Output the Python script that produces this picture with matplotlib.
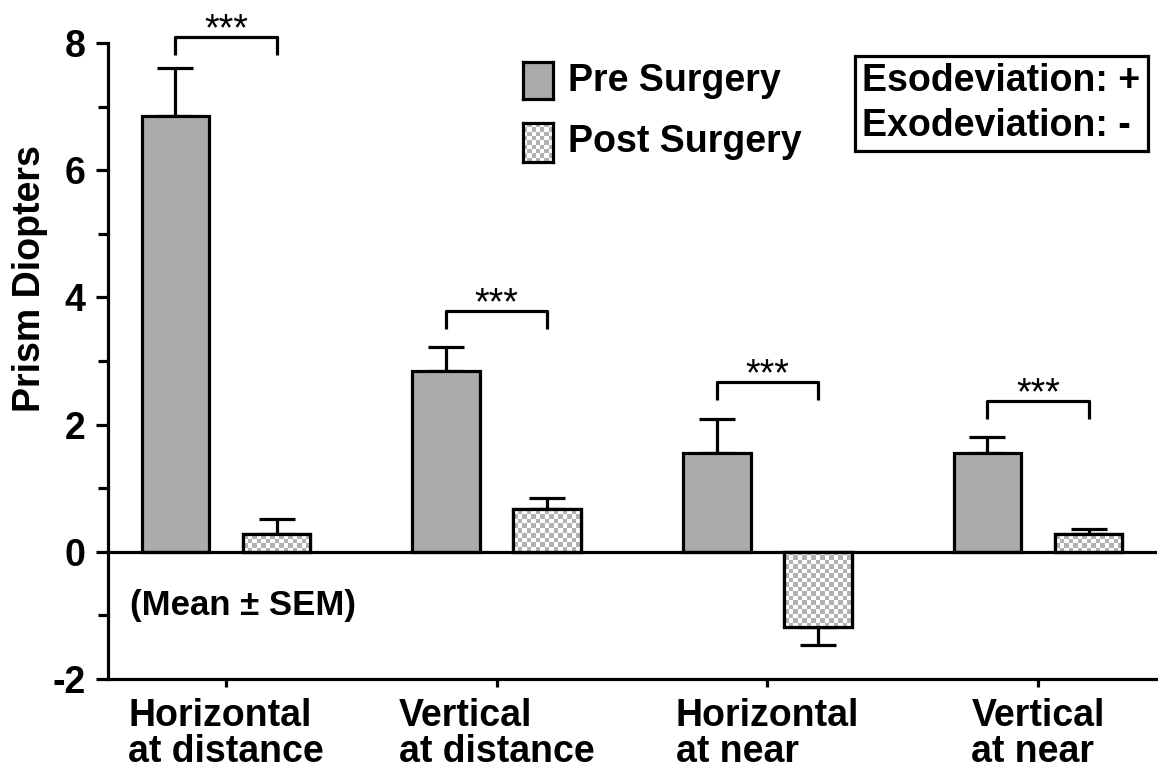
import numpy as np
import matplotlib
matplotlib.use("Agg")
import matplotlib.pyplot as plt
from matplotlib.colors import ListedColormap
from matplotlib.ticker import MultipleLocator

# -----------------------------
# DATA
# -----------------------------
conditions = ["Horizontal\nat distance", "Vertical\nat distance",
              "Horizontal\nat near", "Vertical\nat near"]
pre_mean = [6.85, 2.85, 1.55, 1.55]
pre_sem = [0.75, 0.37, 0.53, 0.26]
post_mean = [0.28, 0.67, -1.18, 0.28]
post_sem = [0.23, 0.18, 0.29, 0.08]
bracket_y = [8.09, 3.78, 2.67, 2.37]
sig_labels = ["***", "***", "***", "***"]

# -----------------------------
# STYLE
# -----------------------------
plt.rcParams["font.family"] = ["Liberation Sans", "DejaVu Sans"]
plt.rcParams["axes.unicode_minus"] = False

PRE_COLOR = "#ababab"
CHECK_GRAY = "#b2b2b2"
LW = 2.3
BAR_W = 0.25
OFFSET = 0.187
CELL_PX = 4.5

checker_cmap = ListedColormap(["white", CHECK_GRAY])


def checker(rows, cols):
    r = np.arange(rows)[:, None]
    c = np.arange(cols)[None, :]
    return (r + c) % 2


fig = plt.figure(figsize=(11.58, 7.79), dpi=100)
ax = fig.add_axes([0.0933, 0.1284, 0.9059, 0.8164])

XLIM = (-0.436, 3.44)
YLIM = (-2, 8)
ax.set_xlim(*XLIM)
ax.set_ylim(*YLIM)

x = np.arange(len(conditions))
x_pre = x - OFFSET
x_post = x + OFFSET

# error bars (one-sided, away from zero); bars sit on top to hide the inner cap
pre_err = [np.zeros(len(pre_mean)), pre_sem]
post_lo = [s if m < 0 else 0 for m, s in zip(post_mean, post_sem)]
post_hi = [s if m >= 0 else 0 for m, s in zip(post_mean, post_sem)]
ekw = dict(fmt="none", ecolor="black", elinewidth=LW, capsize=13, capthick=LW, zorder=2)
ax.errorbar(x_pre, pre_mean, yerr=pre_err, **ekw)
ax.errorbar(x_post, post_mean, yerr=[post_lo, post_hi], **ekw)

ax.bar(x_pre, pre_mean, BAR_W, color=PRE_COLOR, edgecolor="black", linewidth=LW, zorder=3)
post_bars = ax.bar(x_post, post_mean, BAR_W, color="white", edgecolor="black",
                   linewidth=LW, zorder=3)

# checkerboard fill for the post-surgery bars
for bar in post_bars:
    x0, y0 = bar.get_x(), bar.get_y()
    x1, y1 = x0 + bar.get_width(), y0 + bar.get_height()
    p0 = ax.transData.transform((x0, min(y0, y1)))
    p1 = ax.transData.transform((x1, max(y0, y1)))
    cols = max(1, int(round((p1[0] - p0[0]) / CELL_PX)))
    rows = max(1, int(round((p1[1] - p0[1]) / CELL_PX)))
    im = ax.imshow(checker(rows, cols), cmap=checker_cmap, vmin=0, vmax=1,
                   extent=[x0, x1, min(y0, y1), max(y0, y1)], origin="lower",
                   interpolation="nearest", aspect="auto", zorder=3.5)
    im.set_clip_path(bar)
ax.bar(x_post, post_mean, BAR_W, fill=False, edgecolor="black", linewidth=LW, zorder=4)

ax.set_xlim(*XLIM)
ax.set_ylim(*YLIM)

ax.axhline(0, color="black", linewidth=LW, zorder=5)

# significance brackets
drop = 0.28
for xa, xb, yb, lab in zip(x_pre, x_post, bracket_y, sig_labels):
    ax.plot([xa, xa, xb, xb], [yb - drop, yb, yb, yb - drop], color="black",
            linewidth=LW, solid_capstyle="butt", clip_on=False, zorder=6)
    ax.text((xa + xb) / 2, yb - 0.05, lab, ha="center", va="baseline",
            fontsize=27, clip_on=False)

ax.text(-0.355, -0.85, "(Mean ± SEM)", ha="left", va="center",
        fontsize=25, fontweight="bold")

# axes styling
for side in ["top", "right"]:
    ax.spines[side].set_visible(False)
for side in ["left", "bottom"]:
    ax.spines[side].set_linewidth(LW)

ax.set_xticks(x)
ax.set_xticklabels(conditions, fontsize=27, fontweight="bold",
                   multialignment="left", linespacing=1.0)
ax.tick_params(axis="x", length=6, width=LW, pad=8)

ax.yaxis.set_major_locator(MultipleLocator(2))
ax.yaxis.set_minor_locator(MultipleLocator(1))
ax.tick_params(axis="y", which="major", length=9, width=LW, pad=7, labelsize=27)
ax.tick_params(axis="y", which="minor", length=7, width=LW)
for lab in ax.get_yticklabels():
    lab.set_fontweight("bold")

ax.set_ylabel("Prism Diopters", fontsize=27, fontweight="bold")
ax.yaxis.set_label_coords(-0.057, 0.63)

# legend, drawn by hand so the checkerboard swatch matches the bars
pre_key = fig.add_axes([0.4516, 0.8729, 0.0259, 0.0475])
pre_key.set_facecolor(PRE_COLOR)
post_key = fig.add_axes([0.4516, 0.7920, 0.0259, 0.0500])
post_key.imshow(checker(9, 7), cmap=checker_cmap, vmin=0, vmax=1,
                interpolation="nearest", aspect="auto")
for key in (pre_key, post_key):
    key.set_xticks([])
    key.set_yticks([])
    for sp in key.spines.values():
        sp.set_linewidth(LW)

fig.text(0.4905, 0.896, "Pre Surgery", fontsize=27, fontweight="bold", va="center")
fig.text(0.4905, 0.818, "Post Surgery", fontsize=27, fontweight="bold", va="center")

fig.text(0.7445, 0.867, "Esodeviation: +\nExodeviation: -", fontsize=27,
         fontweight="bold", va="center", ha="left", linespacing=1.3,
         bbox=dict(boxstyle="square,pad=0.2", facecolor="white",
                   edgecolor="black", linewidth=LW))

fig.savefig("out.png", dpi=100)
